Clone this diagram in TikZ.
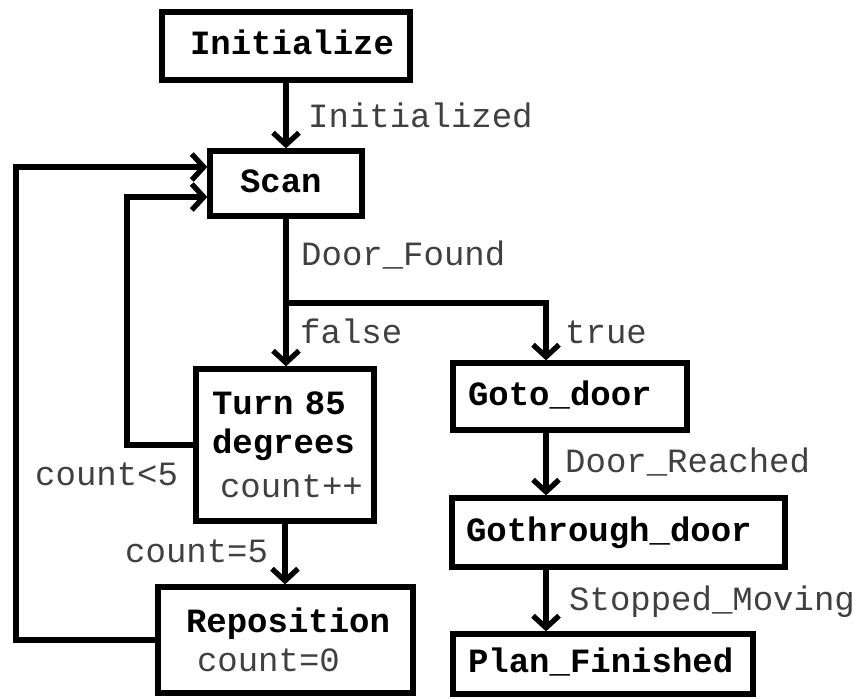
\documentclass[tikz,border=0pt]{standalone}
\usepackage{fontspec}
\setmainfont{Liberation Mono}
\usetikzlibrary{arrows.meta}
\tikzset{
  box/.style={draw, line width=5.3pt, inner sep=0pt, align=left,
    font=\fontsize{34}{39}\selectfont\bfseries},
  one/.style={text height=22pt, text depth=5pt},
  lbl/.style={inner sep=0pt, anchor=base west, text=black!75,
    font=\fontsize{34}{39}\selectfont},
  arr/.style={line width=5.3pt, -{Straight Barb[length=12pt,width=26pt]}},
  plain/.style={line width=5.3pt},
}
\begin{document}
\begin{tikzpicture}[x=1pt,y=-1pt]
\useasboundingbox (0,0) rectangle (858,698);
% boxes
\node[box,one,minimum width=248pt,text width=248pt,minimum height=68pt] (init) at (286,46) {\hspace*{28pt}Initialize};
\node[box,one,minimum width=152pt,text width=152pt,minimum height=65pt] (scan) at (286,183.5) {\hspace*{30pt}Scan};
\node[box,minimum width=178pt,text width=178pt,minimum height=152pt] (turn) at (285,445)
  {\hspace*{16pt}Turn 85\\\hspace*{16pt}degrees\\[5pt]\hspace*{24pt}{\mdseries\color{black!75}count++}};
\node[box,minimum width=255pt,text width=255pt,minimum height=106pt] (repos) at (285.5,640)
  {\hspace*{28pt}Reposition\\\hspace*{39pt}{\mdseries\color{black!75}count=0}};
\node[box,one,minimum width=234pt,text width=234pt,minimum height=67pt] (goto) at (570,396.5) {\hspace*{15pt}Goto\_door};
\node[box,one,minimum width=333pt,text width=333pt,minimum height=69pt] (thru) at (618.5,532.5) {\hspace*{14pt}Gothrough\_door};
\node[box,one,minimum width=300pt,text width=300pt,minimum height=60pt] (plan) at (603,664) {\hspace*{15pt}Plan\_Finished};
% helper coordinates
\coordinate (split) at (286,303);
\coordinate (rc) at (546,303);
\coordinate (o1) at (16,167);
\coordinate (i1) at (127,197);
% connectors
\draw[arr] (init.south) -- (scan.north);
\draw[plain] (scan.south) -- (split);
\draw[arr] (split) -- (split |- turn.north);
\draw[arr] (split) -- (rc) -- (rc |- goto.north);
\draw[arr] (turn.south) -- (turn.south |- repos.north);
\draw[arr] (turn.west) -| (i1) -- (i1 -| scan.west);
\draw[arr] (repos.west) -| (o1) -- (o1 -| scan.west);
\draw[arr] (goto.south -| rc) -- (thru.north -| rc);
\draw[arr] (thru.south -| rc) -- (plan.north -| rc);
% labels
\node[lbl] (l1) at (308,128) {Initialized};
\node[lbl] (l2) at (301,265) {Door\_Found};
\node[lbl] (l3) at (300,343) {false};
\node[lbl] (l4) at (565,343) {true};
\node[lbl] (l5) at (35,485) {count<5};
\node[lbl] (l6) at (125,562) {count=5};
\node[lbl] (l7) at (565,472) {Door\_Reached};
\node[lbl] (l8) at (569,610) {Stopped\_Moving};
\end{tikzpicture}
\end{document}
